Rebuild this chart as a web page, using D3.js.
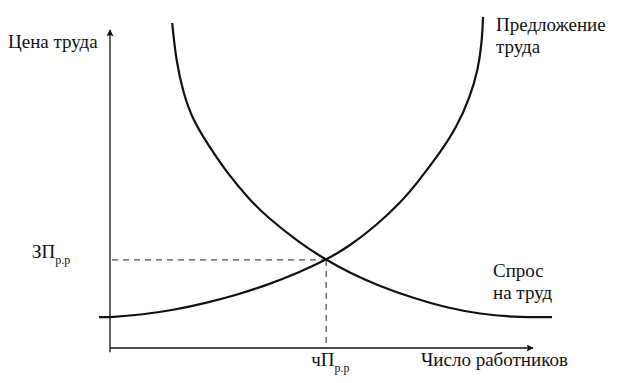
<!DOCTYPE html>
<html>
<head>
<meta charset="utf-8">
<script src="https://cdn.jsdelivr.net/npm/d3@7"></script>
<style>
  body { margin: 0; background: #fff; }
  text { font-family: "Liberation Serif", "DejaVu Serif", serif; fill: #111; }
</style>
</head>
<body>
<script>
// x = number of workers, y = price of labour (0..100 on both axes)
let supplyX = [-2.6, 0.2, 7.1, 14.9, 22.9, 30.7, 37.1, 44.9, 51.1, 56.7, 63.1, 68.6, 72.6, 78.0, 82.0, 85.1, 87.0, 87.9, 88.2];
let supplyY = [9.7, 9.7, 10.4, 11.9, 14.2, 17.0, 19.8, 23.9, 27.7, 32.1, 38.7, 45.6, 51.9, 61.3, 69.5, 78.9, 87.4, 95.9, 104.1];

let demandX = [14.7, 15.6, 17.3, 19.6, 22.9, 27.7, 33.1, 37.1, 44.9, 51.1, 56.7, 63.1, 71.6, 79.7, 87.5, 95.3, 104.5];
let demandY = [102.2, 90.6, 80.2, 71.7, 64.5, 55.0, 46.5, 41.2, 33.0, 27.7, 23.6, 19.8, 15.7, 12.6, 10.7, 9.7, 9.7];

let eqWorkers = 51.1;
let eqPrice = 27.7;

let yAxisLabel = "Цена труда";
let xAxisLabel = "Число работников";
let supplyLabel = ["Предложение", "труда"];
let demandLabel = ["Спрос", "на труд"];
let priceMark = {main: "ЗП", sub: "р.р"};
let workersMark = {main: "чП", sub: "р.р"};

let svgWidth = 622,
    svgHeight = 383;

let svg = d3.select("body").append("svg")
    .attr("width", svgWidth)
    .attr("height", svgHeight);

let x = d3.scaleLinear().domain([0, 100]).range([110, 533]);
let y = d3.scaleLinear().domain([0, 100]).range([348, 30]);

svg.append("defs").append("marker")
    .attr("id", "arrow")
    .attr("viewBox", "0 0 10 10")
    .attr("refX", 9)
    .attr("refY", 5)
    .attr("markerWidth", 9)
    .attr("markerHeight", 7)
    .attr("markerUnits", "userSpaceOnUse")
    .attr("orient", "auto")
    .append("path")
    .attr("d", "M0,0 L10,5 L0,10 L2,5 Z")
    .attr("fill", "#111");

// axes
svg.append("line")
    .attr("x1", x(0)).attr("y1", y(-1.3))
    .attr("x2", x(0)).attr("y2", y(100))
    .attr("stroke", "#111").attr("stroke-width", 1.3)
    .attr("marker-end", "url(#arrow)");

svg.append("line")
    .attr("x1", x(0)).attr("y1", y(0))
    .attr("x2", x(100)).attr("y2", y(0))
    .attr("stroke", "#111").attr("stroke-width", 1.3)
    .attr("marker-end", "url(#arrow)");

// guides to the equilibrium point
svg.append("line")
    .attr("x1", x(0) + 2).attr("y1", y(eqPrice))
    .attr("x2", x(eqWorkers)).attr("y2", y(eqPrice))
    .attr("stroke", "#222").attr("stroke-width", 1)
    .attr("stroke-dasharray", "6,5");

svg.append("line")
    .attr("x1", x(eqWorkers)).attr("y1", y(eqPrice))
    .attr("x2", x(eqWorkers)).attr("y2", y(0))
    .attr("stroke", "#222").attr("stroke-width", 1)
    .attr("stroke-dasharray", "6,5");

// curves (basis spline smooths the hand-read points)
let line = d3.line()
    .x(d => x(d[0]))
    .y(d => y(d[1]))
    .curve(d3.curveBasis);

svg.append("path")
    .datum(d3.zip(supplyX, supplyY))
    .attr("d", line)
    .attr("fill", "none")
    .attr("stroke", "#111")
    .attr("stroke-width", 2.2);

svg.append("path")
    .datum(d3.zip(demandX, demandY))
    .attr("d", line)
    .attr("fill", "none")
    .attr("stroke", "#111")
    .attr("stroke-width", 2.2);

// labels
let fs = 19;

svg.append("text")
    .attr("x", 8).attr("y", 48)
    .attr("font-size", fs)
    .text(yAxisLabel);

svg.append("text")
    .attr("x", 421).attr("y", 366)
    .attr("font-size", fs)
    .text(xAxisLabel);

function twoLines(lines, x0, y0) {
    lines.forEach((t, i) => {
        svg.append("text")
            .attr("x", x0).attr("y", y0 + i * 22)
            .attr("font-size", fs)
            .text(t);
    });
}
twoLines(supplyLabel, 496, 31);
twoLines(demandLabel, 493, 277);

function markLabel(mark, x0, y0) {
    let t = svg.append("text")
        .attr("x", x0).attr("y", y0)
        .attr("font-size", fs);
    t.append("tspan").text(mark.main);
    t.append("tspan")
        .attr("font-size", 12)
        .attr("dy", 6)
        .text(mark.sub);
}
markLabel(priceMark, 32, y(eqPrice) - 2);
markLabel(workersMark, x(eqWorkers) - 15, 366);
</script>
</body>
</html>
